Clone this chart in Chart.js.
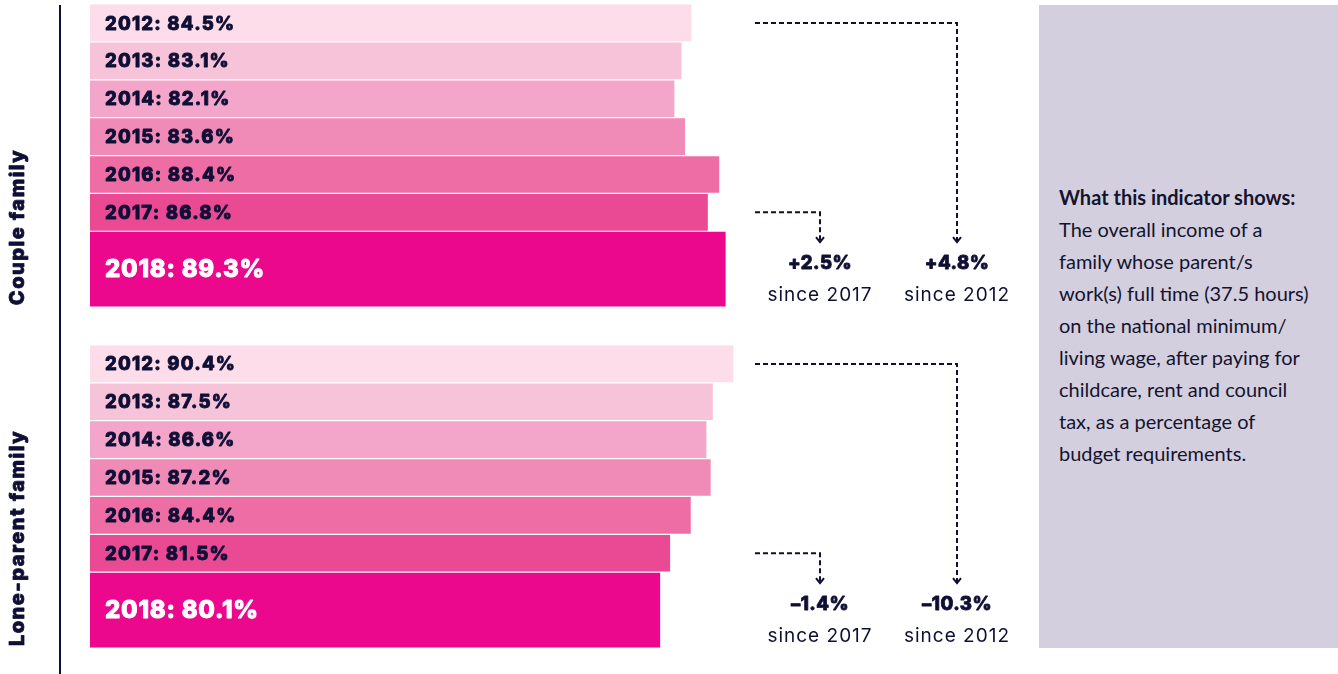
<!DOCTYPE html>
<html>
<head>
<meta charset="utf-8">
<script src="https://cdn.jsdelivr.net/npm/chart.js@4/dist/chart.umd.min.js"></script>
<style>
  html, body { margin: 0; padding: 0; background: #ffffff; }
  #wrap { position: relative; width: 1338px; height: 674px; overflow: hidden; }
  #chart { position: absolute; left: 0; top: 0; }
  #panel {
    position: absolute; left: 1039px; top: 5px; width: 299px; height: 643px;
    background: #d3cfdf; box-sizing: border-box; padding: 176px 0 0 20px;
    font-family: "Lato", sans-serif; font-size: 20px; line-height: 32px; color: #14142e;
  }
  #panel b { font-weight: 700; }
</style>
</head>
<body>
<div id="wrap">
  <canvas id="chart" width="1338" height="674"></canvas>
  <div id="panel"></div>
</div>
<script>
// ---- data ----
const groups = ['Couple family', 'Lone-parent family'];
const years = ['2012', '2013', '2014', '2015', '2016', '2017', '2018'];
const coupleValues = [84.5, 83.1, 82.1, 83.6, 88.4, 86.8, 89.3];
const loneParentValues = [90.4, 87.5, 86.6, 87.2, 84.4, 81.5, 80.1];
const panelTitle = 'What this indicator shows:';
const panelLines = [
  'The overall income of a',
  'family whose parent/s',
  'work(s) full time (37.5 hours)',
  'on the national minimum/',
  'living wage, after paying for',
  'childcare, rent and council',
  'tax, as a percentage of',
  'budget requirements.'
];

// ---- styles ----
const yearColors = ['#fcdde9', '#f7c3d9', '#f3a6c9', '#f08ab6', '#ee6da5', '#ea4994', '#ec088c'];
const navy = '#0f0f35';
const boldFont = '"Inter", "Lato", sans-serif';

const groupValues = [coupleValues, loneParentValues];
const lastIdx = years.length - 1;
const rowsPerGroup = 9;
function rowPos(g, i) { return g * rowsPerGroup + (i === lastIdx ? i + 0.5 : i); }

const regularData = [], regularColors = [], latestData = [], latestColors = [];
groupValues.forEach((vals, g) => {
  vals.forEach((v, i) => {
    const pt = { x: v, y: rowPos(g, i), year: years[i], group: g };
    if (i === lastIdx) { latestData.push(pt); latestColors.push(yearColors[i]); }
    else { regularData.push(pt); regularColors.push(yearColors[i]); }
  });
});

document.getElementById('panel').innerHTML =
  '<b>' + panelTitle + '</b><br>' + panelLines.join('<br>');

function fmtChange(d) {
  const r = Math.round(d * 10) / 10;
  return (r > 0 ? '+' : '\u2013') + Math.abs(r).toFixed(1) + '%';
}

function heavyText(ctx, text, x, y, color, stroke) {
  ctx.fillStyle = color;
  ctx.fillText(text, x, y);
  if (stroke) {
    ctx.strokeStyle = color;
    ctx.lineWidth = stroke;
    ctx.lineJoin = 'round';
    ctx.strokeText(text, x, y);
  }
}

const overlay = {
  id: 'overlay',
  afterDatasetsDraw(chart) {
    const ctx = chart.ctx;
    const ys = chart.scales.y;
    const ca = chart.chartArea;
    ctx.save();
    // bar labels
    chart.data.datasets.forEach((ds, di) => {
      const meta = chart.getDatasetMeta(di);
      meta.data.forEach((el, k) => {
        const pt = ds.data[k];
        const latest = pt.year === years[lastIdx];
        ctx.font = (latest ? '800 24px ' : '800 18.5px ') + boldFont;
        ctx.letterSpacing = latest ? '0.75px' : '1.2px';
        ctx.textAlign = 'left';
        ctx.textBaseline = 'middle';
        heavyText(ctx, pt.year + ': ' + pt.x.toFixed(1) + '%', ca.left + 15, el.y + 1,
          latest ? '#ffffff' : navy, latest ? 0.9 : 0.8);
      });
    });
    // left axis line
    ctx.letterSpacing = '0px';
    ctx.strokeStyle = navy;
    ctx.lineWidth = 2;
    ctx.beginPath();
    ctx.moveTo(60, 5);
    ctx.lineTo(60, 674);
    ctx.stroke();
    // group labels (rotated)
    groups.forEach((name, g) => {
      const bottom = ys.getPixelForValue(rowPos(g, lastIdx)) + 36;
      ctx.save();
      ctx.translate(24, bottom);
      ctx.rotate(-Math.PI / 2);
      ctx.font = '800 20px ' + boldFont;
      ctx.letterSpacing = '1.5px';
      ctx.textAlign = 'left';
      ctx.textBaseline = 'alphabetic';
      heavyText(ctx, name, 0, 0, navy, 0.8);
      ctx.restore();
    });
    // arrows + change labels
    const startX = 755, shortX = 820, longX = 957;
    groupValues.forEach((vals, g) => {
      const yFirst = ys.getPixelForValue(rowPos(g, 0));
      const yPrev = ys.getPixelForValue(rowPos(g, lastIdx - 1));
      const latestTop = ys.getPixelForValue(rowPos(g, lastIdx)) - 37;
      const tipY = latestTop + 10;
      ctx.letterSpacing = '0px';
      ctx.strokeStyle = navy;
      ctx.lineWidth = 2;
      ctx.lineJoin = 'miter';
      ctx.setLineDash([5, 3]);
      [[yFirst, longX], [yPrev, shortX]].forEach(([y0, x1]) => {
        ctx.beginPath();
        ctx.moveTo(startX, y0);
        ctx.lineTo(x1, y0);
        ctx.lineTo(x1, tipY - 1);
        ctx.stroke();
      });
      ctx.setLineDash([]);
      [shortX, longX].forEach(x1 => {
        ctx.beginPath();
        ctx.moveTo(x1 - 4, tipY - 5);
        ctx.lineTo(x1, tipY);
        ctx.lineTo(x1 + 4, tipY - 5);
        ctx.stroke();
      });
      const last = vals[lastIdx];
      const entries = [
        [shortX, fmtChange(last - vals[lastIdx - 1]), 'since ' + years[lastIdx - 1]],
        [longX, fmtChange(last - vals[0]), 'since ' + years[0]]
      ];
      entries.forEach(([x, big, small]) => {
        ctx.textAlign = 'center';
        ctx.textBaseline = 'middle';
        ctx.font = '800 18.5px ' + boldFont;
        ctx.letterSpacing = '0.5px';
        heavyText(ctx, big, x, latestTop + 31, navy, 0.8);
        ctx.font = '400 19px ' + boldFont;
        ctx.letterSpacing = '1px';
        heavyText(ctx, small, x, latestTop + 63, navy, 0);
      });
    });
    ctx.restore();
  }
};

new Chart(document.getElementById('chart'), {
  type: 'bar',
  data: {
    datasets: [
      { data: regularData, backgroundColor: regularColors, barThickness: 36, grouped: false, borderWidth: 0 },
      { data: latestData, backgroundColor: latestColors, barThickness: 74, grouped: false, borderWidth: 0 }
    ]
  },
  options: {
    indexAxis: 'y',
    responsive: false,
    animation: false,
    layout: { padding: { left: 90, top: 4, right: 299, bottom: 26 } },
    scales: {
      x: { type: 'linear', min: 0, max: 133.4, display: false, offset: false },
      y: { type: 'linear', min: -0.5, max: 16.5, reverse: true, display: false, offset: false }
    },
    plugins: { legend: { display: false }, tooltip: { enabled: false } }
  },
  plugins: [overlay]
});
</script>
</body>
</html>
